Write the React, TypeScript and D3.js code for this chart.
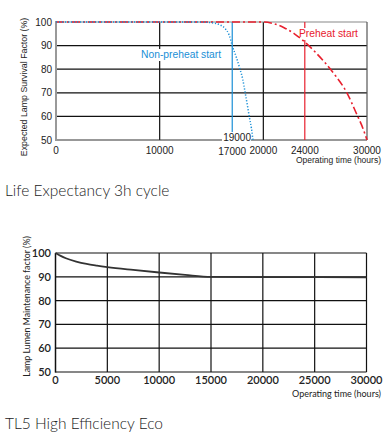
import React from "react";
import * as d3 from "d3";

// ---------- Chart 1 data: Life expectancy ----------
const survivalYTicks = [50, 60, 70, 80, 90, 100];
const survivalXTicks = [0, 10000, 17000, 20000, 24000, 30000];
const survivalGridX = [10000, 20000];
const nonPreheat: [number, number][] = [
  [0, 100], [14000, 100], [15000, 99.7], [15800, 98.8], [16300, 97.3], [16700, 94.5],
  [17000, 90], [17400, 85], [17750, 80], [18000, 76], [18250, 70], [18450, 65],
  [18640, 60], [18850, 55], [19000, 50],
];
const preheat: [number, number][] = [
  [0, 100], [20000, 100], [21000, 99.3], [22000, 97.6], [23000, 95], [24000, 91.5],
  [25000, 87.3], [26000, 82.5], [27000, 77], [28000, 70.5], [29000, 61], [29600, 55], [30000, 50],
];
const nonPreheatMark = 17000;
const preheatMark = 24000;
const nonPreheatEnd = 19000;

// ---------- Chart 2 data: Lumen maintenance ----------
const lumenYTicks = [50, 60, 70, 80, 90, 100];
const lumenXTicks = [0, 5000, 10000, 15000, 20000, 25000, 30000];
const lumen: [number, number][] = [
  [0, 100], [500, 98.8], [1000, 97.8], [2000, 96.4], [3000, 95.4], [4000, 94.7],
  [5000, 94.1], [7500, 92.9], [10000, 91.8], [12500, 90.8], [15000, 90], [20000, 89.9],
  [30000, 89.8],
];

const W = 391;
const H = 439;
const arial = "'Liberation Sans', Arial, sans-serif";
const gill = "Lato, 'Open Sans', sans-serif";
const RED = "#e8202e";
const BLUE = "#1a8fd6";

export default function App() {
  // chart 1 scales
  const x1 = d3.scaleLinear().domain([0, 30000]).range([56, 367]);
  const y1 = d3.scaleLinear().domain([50, 100]).range([140, 22]);
  const line1 = d3.line<[number, number]>().x((d) => x1(d[0])).y((d) => y1(d[1])).curve(d3.curveMonotoneX);

  // chart 2 scales
  const x2 = d3.scaleLinear().domain([0, 30000]).range([55.5, 366.5]);
  const y2 = d3.scaleLinear().domain([50, 100]).range([372, 253]);
  const line2 = d3.line<[number, number]>().x((d) => x2(d[0])).y((d) => y2(d[1])).curve(d3.curveMonotoneX);

  return (
    <svg width={W} height={H} style={{ position: "absolute", left: 0, top: 0, background: "#fff" }}>
      <rect x={0} y={0} width={W} height={H} fill="#fff" />
      {/* ================= Chart 1 ================= */}
      <g>
        {survivalYTicks.filter((t) => t > 50 && t < 100).map((t) => (
          <line key={t} x1={x1(0)} x2={x1(30000)} y1={y1(t)} y2={y1(t)} stroke="#111" strokeWidth={1.2} />
        ))}
        {survivalGridX.map((t) => (
          <line key={t} x1={x1(t)} x2={x1(t)} y1={y1(100)} y2={y1(50)} stroke="#111" strokeWidth={1.2} />
        ))}
        {/* border */}
        <line x1={x1(0)} x2={x1(30000)} y1={y1(100)} y2={y1(100)} stroke="#888" strokeWidth={1.2} />
        <line x1={x1(30000)} x2={x1(30000)} y1={y1(100)} y2={y1(50)} stroke="#555" strokeWidth={1.2} />
        <line x1={x1(0)} x2={x1(30000)} y1={y1(50)} y2={y1(50)} stroke="#333" strokeWidth={1.2} />
        <line x1={x1(0)} x2={x1(0)} y1={y1(100) - 1} y2={y1(50) + 1} stroke="#999" strokeWidth={2} />
        {/* marker verticals */}
        <line x1={x1(nonPreheatMark)} x2={x1(nonPreheatMark)} y1={y1(100)} y2={y1(50)} stroke={BLUE} strokeWidth={1.2} />
        <line x1={x1(preheatMark)} x2={x1(preheatMark)} y1={y1(100)} y2={y1(50)} stroke={RED} strokeWidth={1.2} />
        {/* label backgrounds */}
        <rect x={140} y={49} width={85} height={12} fill="#fff" />
        <rect x={298} y={28} width={64} height={12} fill="#fff" />
        {/* curves */}
        <path d={line1(preheat) || ""} fill="none" stroke={RED} strokeWidth={1.6} strokeDasharray="8 3 2 3" />
        <path d={line1(nonPreheat) || ""} fill="none" stroke={BLUE} strokeWidth={1.5} strokeDasharray="1.2 1.8" />
        {/* 19000 label */}
        <rect x={x1(nonPreheatEnd) - 31} y={y1(50) - 8} width={29} height={9} fill="#fff" />
        <text x={x1(nonPreheatEnd) - 2} y={y1(50) + 1} fontSize={10} fontFamily={arial} textAnchor="end" fill="#222">
          {nonPreheatEnd}
        </text>
        {/* labels */}
        <text x={141} y={58} fontSize={10.3} fontFamily={arial} fill={BLUE}>Non-preheat start</text>
        <text x={299} y={37} fontSize={10.3} fontFamily={arial} fill={RED}>Preheat start</text>
        {survivalYTicks.map((t) => (
          <text key={t} x={52} y={y1(t) + 3.6} fontSize={10} fontFamily={arial} textAnchor="end" fill="#222">{t}</text>
        ))}
        {survivalXTicks.map((t) => (
          <text key={t} x={x1(t)} y={t === 17000 ? 155 : 154} fontSize={10} fontFamily={arial} textAnchor="middle" fill="#222">{t}</text>
        ))}
        <text x={381} y={163} fontSize={8.5} fontFamily={arial} textAnchor="end" fill="#222">Operating time (hours)</text>
        <text transform={`translate(26.5,${(y1(50) + y1(100)) / 2 + 6}) rotate(-90)`} fontSize={8.8} fontFamily={arial} textAnchor="middle" fill="#222">
          Expected Lamp Survival Factor (%)
        </text>
        <text x={5} y={196} fontSize={15.5} fontFamily={gill} fill="#222" fontWeight={300}>Life Expectancy 3h cycle</text>
      </g>

      {/* ================= Chart 2 ================= */}
      <g>
        {lumenYTicks.filter((t) => t > 50).map((t) => (
          <line key={t} x1={x2(0)} x2={x2(30000)} y1={y2(t)} y2={y2(t)} stroke="#111" strokeWidth={1.2} />
        ))}
        {lumenXTicks.filter((t) => t > 0).map((t) => (
          <line key={t} x1={x2(t)} x2={x2(t)} y1={y2(100)} y2={y2(50)} stroke="#111" strokeWidth={1.2} />
        ))}
        <line x1={x2(0)} x2={x2(30000)} y1={y2(50)} y2={y2(50)} stroke="#111" strokeWidth={1.2} />
        <line x1={x2(0)} x2={x2(0)} y1={y2(100)} y2={y2(50) + 0.6} stroke="#111" strokeWidth={1.5} />
        <path d={line2(lumen) || ""} fill="none" stroke="#333" strokeWidth={1.8} />
        {lumenYTicks.map((t) => (
          <text key={t} x={51} y={y2(t) + 4} fontSize={11} fontFamily={gill} textAnchor="end" fill="#222" fontWeight={600}>{t}</text>
        ))}
        {lumenXTicks.map((t) => (
          <text key={t} x={x2(t)} y={384} fontSize={11} fontFamily={gill} textAnchor="middle" fill="#222" fontWeight={600}>{t}</text>
        ))}
        <text x={381} y={397} fontSize={9} fontFamily={gill} textAnchor="end" fill="#222">Operating time (hours)</text>
        <text transform={`translate(29.5,${(y2(50) + y2(100)) / 2 - 6}) rotate(-90)`} fontSize={8.8} fontFamily={gill} textAnchor="middle" fill="#222">
          Lamp Lumen Maintenance factor (%)
        </text>
        <text x={5} y={429} fontSize={15.5} fontFamily={gill} fill="#222" fontWeight={300}>TL5 High Efficiency Eco</text>
      </g>
    </svg>
  );
}
